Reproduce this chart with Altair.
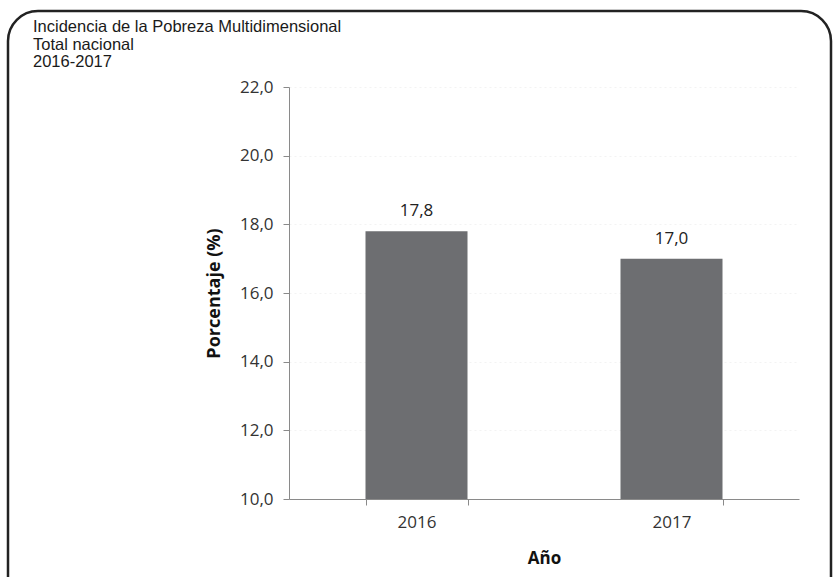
import altair as alt
import pandas as pd

years = ["2016", "2017"]
values = [17.8, 17.0]
labels = ["17,8", "17,0"]
title_lines = ["Incidencia de la Pobreza Multidimensional", "Total nacional", "2016-2017"]
y_ticks = [10, 12, 14, 16, 18, 20, 22]

df = pd.DataFrame({"year": years, "value": values, "label": labels})

W, H = 510, 412
L, T = 289, 87
FONT = "Open Sans"

x = alt.X("year:N", title="Año",
          scale=alt.Scale(paddingInner=0.6, paddingOuter=0.3),
          axis=alt.Axis(labelAngle=0, labelFont=FONT, labelFontSize=17, labelColor="#333333",
                        titleFont=FONT, titleFontSize=17, titleFontWeight="bold", titleColor="#111111",
                        labelPadding=9, titlePadding=20, tickBand="extent", tickSize=6,
                        domainColor="#8a8a8a", tickColor="#8a8a8a", grid=False))
y = alt.Y("value:Q", title="Porcentaje (%)",
          scale=alt.Scale(domain=[10, 22], nice=False, zero=False),
          axis=alt.Axis(values=y_ticks, labelExpr="replace(format(datum.value, '.1f'), '.', ',')",
                        labelFont=FONT, labelFontSize=17, labelColor="#333333",
                        titleFont=FONT, titleFontSize=18, titleFontWeight="bold", titleColor="#111111",
                        labelPadding=10, titlePadding=16, tickSize=6,
                        domainColor="#8a8a8a", tickColor="#8a8a8a",
                        grid=True, gridColor="#f3f3f3", gridDash=[2, 3]))

bars = alt.Chart(df).mark_bar(color="#6d6e71", clip=True).encode(x=x, y=y, y2=alt.Y2(datum=10))
text = alt.Chart(df).mark_text(dy=-20, font=FONT, fontSize=17, color="#222222").encode(
    x="year:N", y="value:Q", text="label:N")

border = alt.Chart(pd.DataFrame({"a": [0]})).mark_rect(
    fill=None, stroke="#222222", strokeWidth=2.5, cornerRadius=30, clip=False).encode(
    x=alt.value(8 - L), x2=alt.value(831 - L), y=alt.value(11 - T), y2=alt.value(640 - T))

title_layers = []
for i, line in enumerate(title_lines):
    title_layers.append(
        alt.Chart(pd.DataFrame({"a": [0]})).mark_text(
            align="left", baseline="alphabetic", font="Liberation Sans", fontSize=16.5,
            color="#1a1a1a", text=line, clip=False).encode(
            x=alt.value(33 - L), y=alt.value(32 + 17.5 * i - T)))

chart = alt.layer(border, bars, text, *title_layers).properties(
    width=W, height=H,
    padding={"left": L, "top": T, "right": 834 - L - W, "bottom": 577 - T - H},
    autosize=alt.AutoSizeParams(type="none"),
    background="white",
).configure_view(stroke=None)

chart.save("out.html", embed_options={"renderer": "svg", "actions": False})
